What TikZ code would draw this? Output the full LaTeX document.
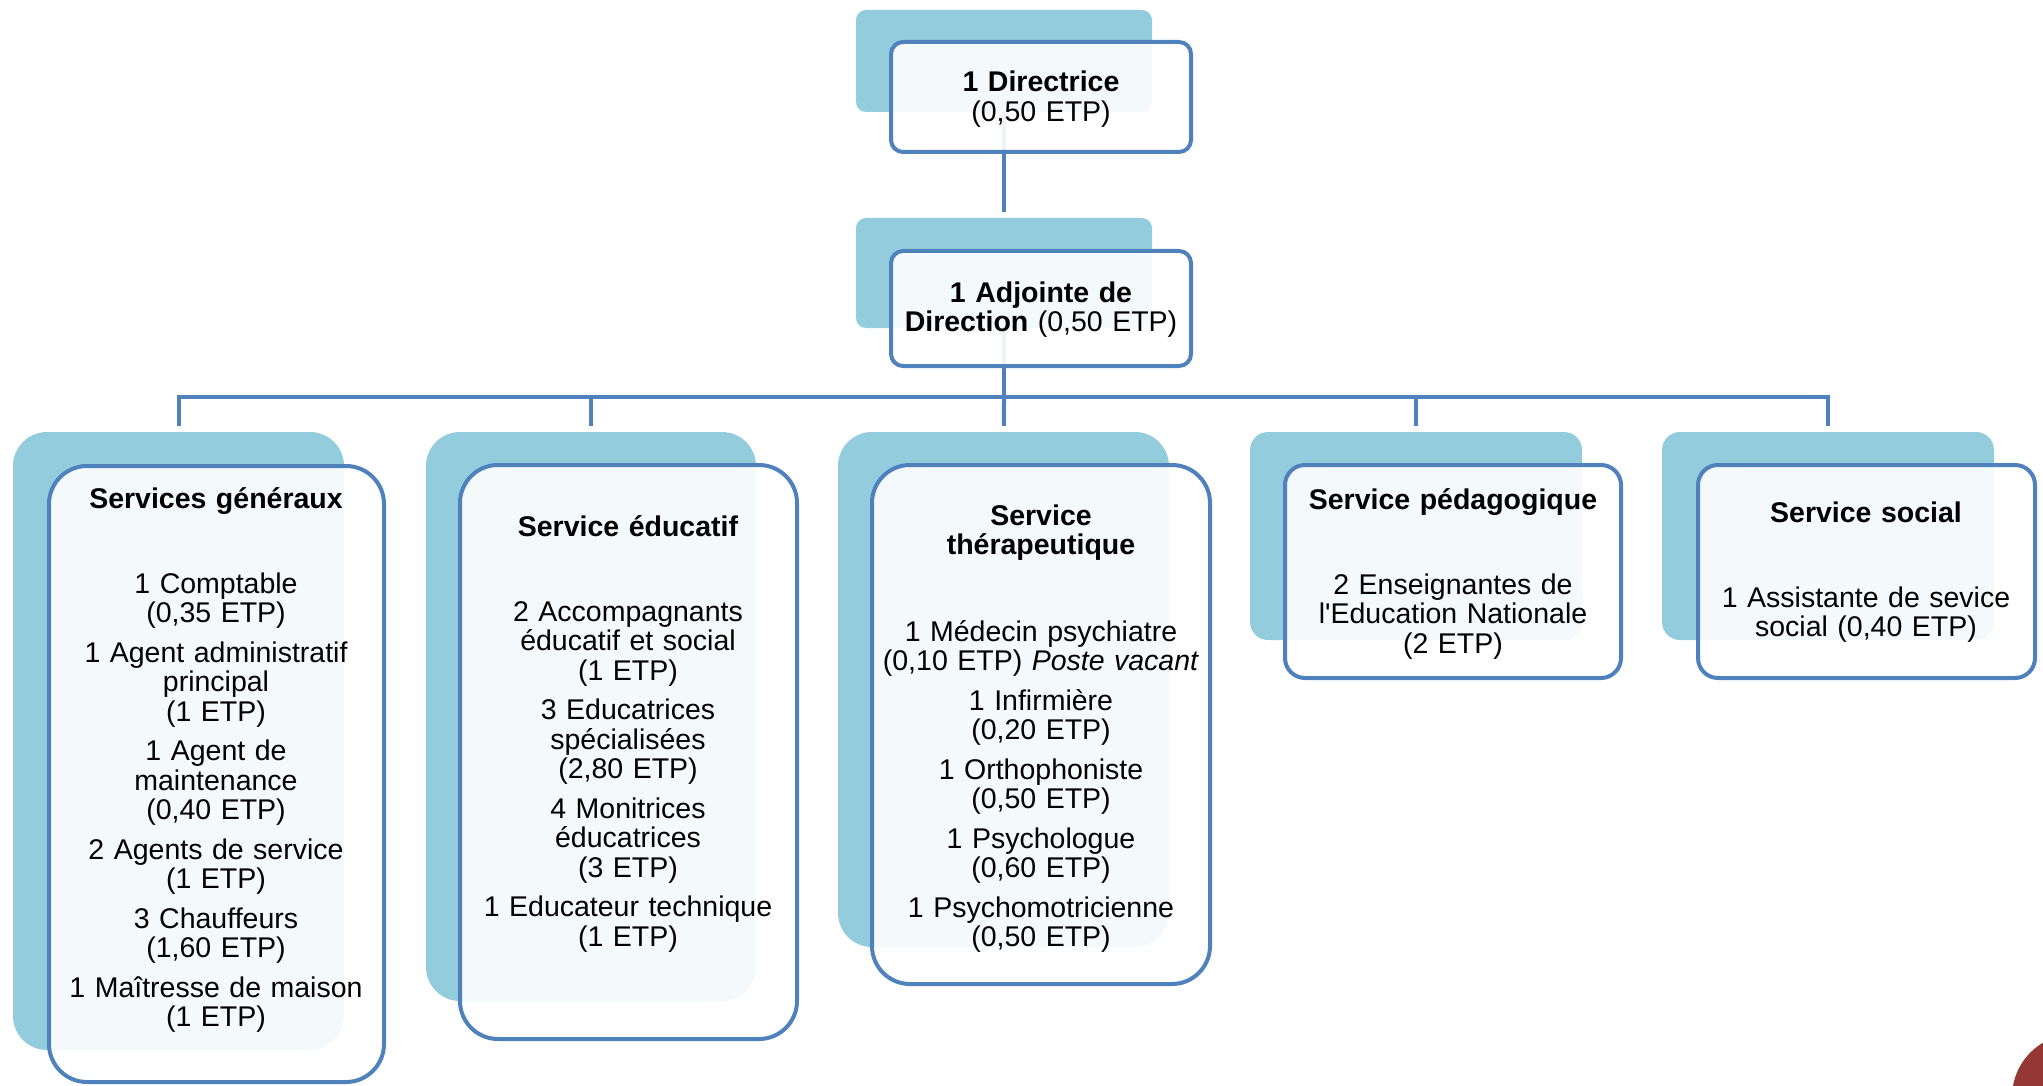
\documentclass[tikz,border=0pt]{standalone}
\usepackage{fontspec}
\setmainfont{Liberation Sans}
\usepackage{tikz}
\definecolor{backblue}{HTML}{93CDDD}
\definecolor{lineblue}{HTML}{4F81BD}
\definecolor{cornerred}{HTML}{953735}

\begin{document}
\begin{tikzpicture}[x=1pt, y=-1pt,
  back/.style = {fill=backblue, rounded corners=#1, inner sep=0pt},
  back/.default = 34pt,
  front/.style = {draw=lineblue, line width=4pt, fill=white, fill opacity=0.9, rounded corners=#1, inner sep=0pt},
  front/.default = 38pt,
  txt/.style = {anchor=base, text width=330pt, align=center, inner sep=0pt, font=\fontsize{28.5}{29.5}\selectfont},
  conn/.style = {draw=lineblue, line width=4pt, shorten >=6pt}]
\useasboundingbox (0,0) rectangle (2043,1086);

% back boxes
\node[back=10pt, minimum width=296pt, minimum height=102pt] (dirb) at (1004,61) {};
\node[back=10pt, minimum width=296pt, minimum height=110pt] (adjb) at (1004,273) {};
\node[back, minimum width=331pt, minimum height=618pt] (genb) at (178.5,741) {};
\node[back, minimum width=330pt, minimum height=569pt] (edub) at (591,716.5) {};
\node[back, minimum width=331pt, minimum height=515pt] (therb) at (1003.5,689.5) {};
\node[back=18pt, minimum width=332pt, minimum height=208pt] (pedb) at (1416,536) {};
\node[back=18pt, minimum width=332pt, minimum height=208pt] (socb) at (1828,536) {};

% connectors
\coordinate (bar) at (1004,397);
\draw[conn] (dirb) -- (adjb);
\draw[conn, shorten >=0pt] (adjb) -- (bar);
\draw[conn] (bar) -| (genb);
\draw[conn] (bar) -| (edub);
\draw[conn] (bar) -- (therb);
\draw[conn] (bar) -| (pedb);
\draw[conn] (bar) -| (socb);

% front boxes
\node[front=12pt, minimum width=300pt, minimum height=110pt] (dirf) at (1041,97) {};
\node[front=12pt, minimum width=300pt, minimum height=115pt] (adjf) at (1041,308.5) {};
\node[front, minimum width=335pt, minimum height=616pt] (genf) at (216.5,774) {};
\node[front, minimum width=337pt, minimum height=574pt] (eduf) at (628.5,752) {};
\node[front, minimum width=338pt, minimum height=519pt] (therf) at (1041,724.5) {};
\node[front=20pt, minimum width=336pt, minimum height=213pt] (pedf) at (1453,571.5) {};
\node[front=20pt, minimum width=337pt, minimum height=213pt] (socf) at (1866.5,571.5) {};

% texts
\node[txt] (dirt) at (1041,92) {\textbf{1 Directrice}\\(0,50 ETP)};
\node[txt] (adjt) at (1041,302) {\textbf{1 Adjointe de}\\\textbf{Direction} (0,50 ETP)};

\node[txt] (gent) at (216,508) {\textbf{Services généraux}};
\node[txt] (genl) at (216,593) {1 Comptable\\(0,35 ETP)\\[10pt]1 Agent administratif\\principal\\(1 ETP)\\[10pt]1 Agent de\\maintenance\\(0,40 ETP)\\[10pt]2 Agents de service\\(1 ETP)\\[10pt]3 Chauffeurs\\(1,60 ETP)\\[10pt]1 Maîtresse de maison\\(1 ETP)};

\node[txt] (edut) at (628,536) {\textbf{Service éducatif}};
\node[txt] (edul) at (628,621) {2 Accompagnants\\éducatif et social\\(1 ETP)\\[10pt]3 Educatrices\\spécialisées\\(2,80 ETP)\\[10pt]4 Monitrices\\éducatrices\\(3 ETP)\\[10pt]1 Educateur technique\\(1 ETP)};

\node[txt] (thert) at (1041,525) {\textbf{Service}\\\textbf{thérapeutique}};
\node[txt] (therl) at (1041,641) {1 Médecin psychiatre\\(0,10 ETP) \textit{Poste vacant}\\[10pt]1 Infirmière\\(0,20 ETP)\\[10pt]1 Orthophoniste\\(0,50 ETP)\\[10pt]1 Psychologue\\(0,60 ETP)\\[10pt]1 Psychomotricienne\\(0,50 ETP)};

\node[txt] (pedt) at (1453,509) {\textbf{Service pédagogique}};
\node[txt] (pedl) at (1453,594) {2 Enseignantes de\\l\textquotesingle Education Nationale\\(2 ETP)};

\node[txt] (soct) at (1866,522) {\textbf{Service social}};
\node[txt] (socl) at (1866,607) {1 Assistante de sevice\\social (0,40 ETP)};

% corner mark
\fill[cornerred] (2075,1097) circle (63pt);
\end{tikzpicture}
\end{document}
